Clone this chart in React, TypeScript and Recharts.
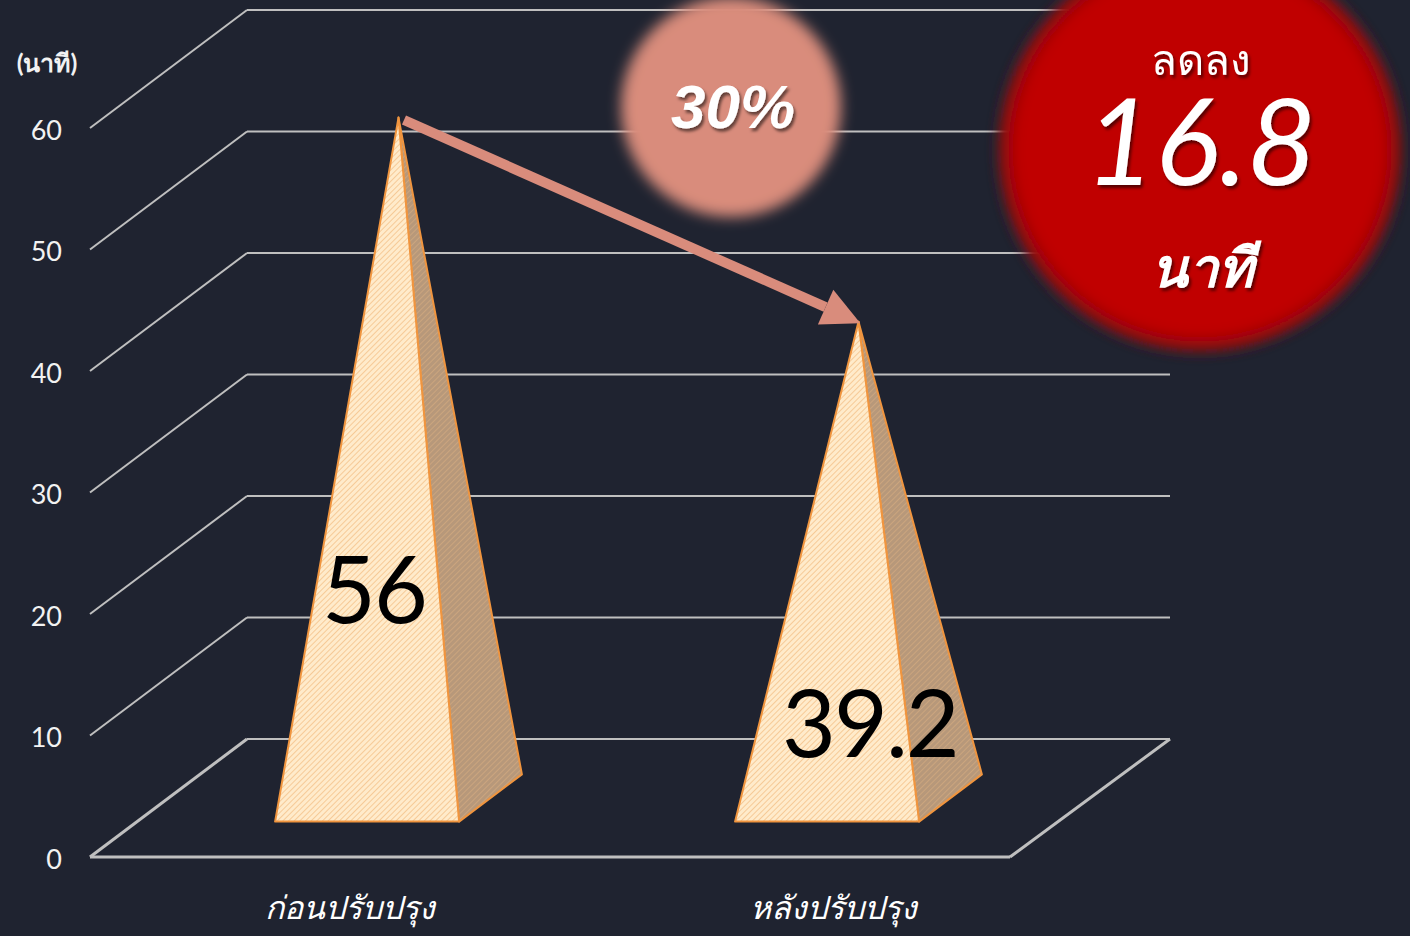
import { Bar, BarChart, CartesianGrid, LabelList, ReferenceLine, XAxis, YAxis } from "recharts";

const categories = ["ก่อนปรับปรุง", "หลังปรับปรุง"];
const minutes = [56, 39.2];
const yTicks = [0, 10, 20, 30, 40, 50, 60];
const yUnit = "(นาที)";
const reductionPct = "30%";
const reductionTitle = "ลดลง";
const reductionValue = "16.8";
const reductionUnit = "นาที";

const data = categories.map((name, i) => ({ name, minutes: minutes[i] }));

const W = 1410;
const H = 936;
const X_AXIS_H = 79;
const FLOOR_Y = H - X_AXIS_H;
// perspective offset from front plane to back wall
const DEPTH_X = 157;
const DEPTH_Y = 118;
const BG = "#1F2330";
const GRID = "#BFBFBF";
const SALMON = "#D98C7C";
const FONT = "Lato, 'Noto Sans', sans-serif";

function WallLine(props: any) {
  const { x1, x2, y1 } = props;
  const floor = Math.abs(y1 - FLOOR_Y) < 1;
  const w = floor ? 3 : 2;
  return (
    <g>
      <line x1={x1} y1={y1} x2={x1 + DEPTH_X} y2={y1 - DEPTH_Y} stroke={GRID} strokeWidth={w} />
      <line x1={x1 + DEPTH_X} y1={y1 - DEPTH_Y} x2={x2 + DEPTH_X + 3} y2={y1 - DEPTH_Y} stroke={GRID} strokeWidth={2} />
      {floor && (
        <>
          <line x1={x1} y1={y1} x2={x2} y2={y1} stroke={GRID} strokeWidth={3} />
          <line x1={x2} y1={y1} x2={x2 + DEPTH_X + 3} y2={y1 - DEPTH_Y} stroke={GRID} strokeWidth={3} />
        </>
      )}
    </g>
  );
}

function Pyramid(props: any) {
  const { x, y, width, height, index } = props;
  const bottom = y + height;
  const fl = [x + 0.3 * DEPTH_X, bottom - 0.3 * DEPTH_Y];
  const fr = [x + width + 0.3 * DEPTH_X, bottom - 0.3 * DEPTH_Y];
  const br = [x + width + 0.7 * DEPTH_X, bottom - 0.7 * DEPTH_Y];
  const apex = [x + width / 2 + 0.5 * DEPTH_X, y - 0.5 * DEPTH_Y];
  const pts = (a: number[][]) => a.map((p) => p.join(",")).join(" ");
  const front = `hatchFront${index}`;
  const side = `hatchSide${index}`;
  return (
    <g>
      <defs>
        <pattern id={front} width={4} height={4} patternUnits="userSpaceOnUse" patternTransform="rotate(45)">
          <rect width={4} height={4} fill="#FFEBCB" />
          <line x1={0} y1={0} x2={0} y2={4} stroke="#F4C28A" strokeWidth={1.6} />
        </pattern>
        <pattern id={side} width={4} height={4} patternUnits="userSpaceOnUse" patternTransform="rotate(45)">
          <rect width={4} height={4} fill="#B7987A" />
          <line x1={0} y1={0} x2={0} y2={4} stroke="#D0A97F" strokeWidth={1.6} />
        </pattern>
      </defs>
      <polygon points={pts([fr, br, apex])} fill={`url(#${side})`} stroke="#F0953F" strokeWidth={2} strokeLinejoin="round" />
      <polygon points={pts([fl, fr, apex])} fill={`url(#${front})`} stroke="#F0953F" strokeWidth={2} strokeLinejoin="round" />
    </g>
  );
}

function ValueLabel(props: any) {
  const { x, y, height, value } = props;
  const bottom = y + height;
  return (
    <text x={x + 94} y={bottom + 213 - height * 0.657} fontSize={93} letterSpacing={-2} fill="#000" fontFamily={FONT}>
      {value}
    </text>
  );
}

function CategoryTick(props: any) {
  const { x, y, payload } = props;
  // labels drift right with the perspective
  const shift = 18 + 0.052 * (x - 90);
  return (
    <text x={x + shift} y={y + 60} textAnchor="middle" fontSize={32} fontStyle="italic" fontWeight={500} fill="#FFFFFF" fontFamily={FONT}>
      {payload.value}
    </text>
  );
}

function Arrow(props: any) {
  const sx = props.x1 + 0.5 * DEPTH_X;
  const sy = props.y1 - 0.5 * DEPTH_Y;
  const ex = props.x2 + 0.5 * DEPTH_X;
  const ey = props.y2 - 0.5 * DEPTH_Y;
  const len = Math.hypot(ex - sx, ey - sy);
  const ux = (ex - sx) / len;
  const uy = (ey - sy) / len;
  const head = 36;
  const half = 19;
  const bx = ex - ux * head;
  const by = ey - uy * head;
  return (
    <g>
      <line x1={sx + ux * 6} y1={sy + uy * 6} x2={bx} y2={by} stroke={SALMON} strokeWidth={10} />
      <polygon
        points={`${ex + ux * 2},${ey + uy * 4} ${bx - uy * half},${by + ux * half} ${bx + uy * half},${by - ux * half}`}
        fill={SALMON}
      />
    </g>
  );
}

export default function App() {
  return (
    <div style={{ position: "absolute", left: 0, top: 0, width: W, height: H, background: BG, fontFamily: FONT, overflow: "hidden" }}>
      <BarChart width={W} height={H} data={data} margin={{ top: 128, right: 400, bottom: 0, left: 0 }} barCategoryGap="30%">
        <CartesianGrid vertical={false} horizontal={(p: any) => <WallLine {...p} />} />
        <XAxis dataKey="name" height={X_AXIS_H} axisLine={false} tickLine={false} tickSize={0} tick={<CategoryTick />} interval={0} />
        <YAxis
          width={90}
          domain={[0, 60]}
          ticks={yTicks}
          axisLine={false}
          tickLine={false}
          tickMargin={22}
          tick={{ fill: "#F2F2F2", fontSize: 27, fontFamily: FONT, dy: 2 }}
          label={{ value: yUnit, position: "top", offset: 56, fill: "#F2F2F2", fontSize: 25, fontWeight: "bold", fontFamily: FONT, dx: 2 }}
        />
        <Bar dataKey="minutes" shape={<Pyramid />} isAnimationActive={false}>
          <LabelList dataKey="minutes" content={<ValueLabel />} />
        </Bar>
        <ReferenceLine
          segment={[
            { x: categories[0], y: minutes[0] },
            { x: categories[1], y: minutes[1] },
          ]}
          ifOverflow="visible"
          shape={(p: any) => <Arrow {...p} />}
        />
      </BarChart>
      <svg width={W} height={H} style={{ position: "absolute", left: 0, top: 0, pointerEvents: "none" }}>
        <defs>
          <filter id="soft" x="-20%" y="-20%" width="140%" height="140%">
            <feGaussianBlur stdDeviation={7} />
          </filter>
          <filter id="softRed" x="-20%" y="-20%" width="140%" height="140%">
            <feGaussianBlur stdDeviation={5} />
          </filter>
          <radialGradient id="redGlow">
            <stop offset="0%" stopColor="#C00000" />
            <stop offset="86%" stopColor="#C00000" />
            <stop offset="94%" stopColor="#8C0A10" />
            <stop offset="100%" stopColor={BG} stopOpacity={0} />
          </radialGradient>
          <filter id="shadow" x="-20%" y="-20%" width="140%" height="140%">
            <feDropShadow dx={2} dy={3} stdDeviation={1.5} floodColor="#000" floodOpacity={0.55} />
          </filter>
        </defs>
        <circle cx={731} cy={107} r={110} fill={SALMON} filter="url(#soft)" />
        <text x={733} y={128} textAnchor="middle" fontSize={62} fontWeight="bold" fontStyle="italic" fill="#FFFFFF"
          fontFamily="'Liberation Sans', Arial, sans-serif" filter="url(#shadow)">
          {reductionPct}
        </text>
        <circle cx={1200} cy={150} r={210} fill="url(#redGlow)" filter="url(#softRed)" />
        <text x={1201} y={75} textAnchor="middle" fontSize={42} fill="#FFFFFF" fontFamily={FONT} filter="url(#shadow)">
          {reductionTitle}
        </text>
        <text x={1201} y={185} textAnchor="middle" fontSize={120} fontStyle="italic" fill="#FFFFFF" fontFamily={FONT} filter="url(#shadow)">
          {reductionValue}
        </text>
        <text x={1202} y={287} textAnchor="middle" fontSize={54} fontWeight="bold" fontStyle="italic" fill="#FFFFFF" fontFamily={FONT} filter="url(#shadow)">
          {reductionUnit}
        </text>
      </svg>
    </div>
  );
}
